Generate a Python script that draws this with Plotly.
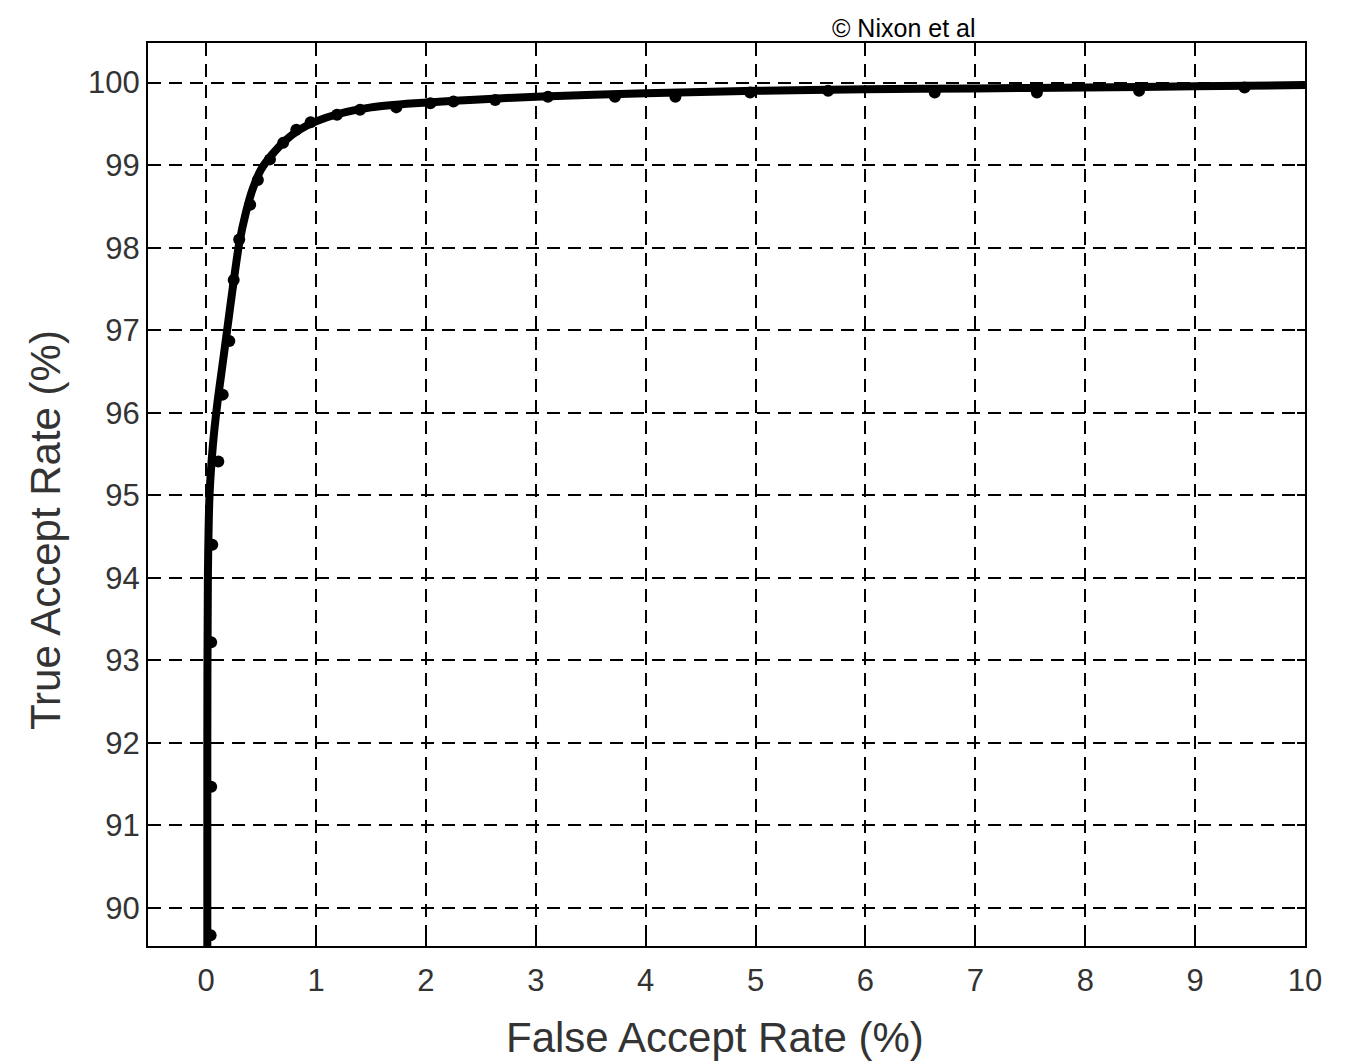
import plotly.graph_objects as go

# Measured points (markers)
far_pts = [0.04, 0.045, 0.045, 0.055, 0.11, 0.15, 0.21, 0.25, 0.30, 0.40, 0.47, 0.58, 0.70, 0.82, 0.95,
           1.19, 1.40, 1.73, 2.04, 2.25, 2.63, 3.11, 3.72, 4.27, 4.95, 5.66, 6.63, 7.56, 8.49, 9.45]
tar_pts = [89.67, 91.47, 93.22, 94.40, 95.41, 96.22, 96.87, 97.61, 98.10, 98.52, 98.82, 99.07, 99.27, 99.43, 99.52,
           99.61, 99.67, 99.70, 99.75, 99.77, 99.79, 99.83, 99.83, 99.83, 99.88, 99.90, 99.88, 99.88, 99.90, 99.94]

# Fitted curve
far_line = [0.01, 0.01, 0.015, 0.03, 0.06, 0.10, 0.15, 0.19, 0.24, 0.30, 0.36, 0.42, 0.50, 0.60, 0.72, 0.85,
            1.0, 1.2, 1.5, 1.9, 2.4, 3.0, 4.0, 5.0, 6.0, 7.0, 8.0, 9.0, 10.0]
tar_line = [89.5, 92.0, 94.0, 95.0, 95.6, 96.1, 96.6, 97.0, 97.5, 98.05, 98.42, 98.7, 98.95, 99.13, 99.3, 99.43,
            99.53, 99.62, 99.70, 99.75, 99.79, 99.83, 99.87, 99.90, 99.92, 99.93, 99.94, 99.955, 99.97]

x_ticks = [0, 1, 2, 3, 4, 5, 6, 7, 8, 9, 10]
y_ticks = [90, 91, 92, 93, 94, 95, 96, 97, 98, 99, 100]

fig = go.Figure()
fig.add_trace(go.Scatter(x=far_line, y=tar_line, mode="lines",
                         line=dict(color="black", width=8, shape="spline", smoothing=0.8),
                         showlegend=False, hoverinfo="skip"))
fig.add_trace(go.Scatter(x=far_pts, y=tar_pts, mode="markers",
                         marker=dict(color="black", size=12),
                         showlegend=False))

font_fam = "Liberation Sans Narrow, Liberation Sans, Arial"
axis_common = dict(
    showgrid=True, gridcolor="black", gridwidth=2, griddash="13px,8px",
    showline=True, linecolor="black", linewidth=2, mirror="ticks",
    ticks="inside", ticklen=8, tickwidth=1.5, tickcolor="black",
    zeroline=False,
    tickfont=dict(family=font_fam, size=31, color="#333333"),
)

# plot area in screen pixels (page has an 8px body offset)
L, R, T, B = 148, 1305, 43, 946
off = 8

fig.update_xaxes(range=[-0.53, 10], tickvals=x_ticks, ticktext=[str(v) for v in x_ticks],
                 ticklabelstandoff=6, **axis_common)
fig.update_yaxes(range=[89.54, 100.48], tickvals=y_ticks, ticktext=[str(v) for v in y_ticks],
                 **axis_common)

fig.add_annotation(text="False Accept Rate (%)", showarrow=False,
                   xref="paper", yref="paper",
                   x=(715 - L) / (R - L), y=(B - 1037) / (B - T), xanchor="center", yanchor="middle",
                   font=dict(family=font_fam, size=42, color="#333333"))
fig.add_annotation(text="True Accept Rate (%)", textangle=-90, showarrow=False,
                   xref="paper", yref="paper",
                   x=(45 - L) / (R - L), y=(B - 530) / (B - T), xanchor="center", yanchor="middle",
                   font=dict(family=font_fam, size=42, color="#333333"))
fig.add_annotation(text="© Nixon et al", showarrow=False, xref="paper", yref="paper",
                   x=(904 - L) / (R - L), y=(B - 28) / (B - T), xanchor="center", yanchor="middle",
                   font=dict(family=font_fam, size=25, color="black"))

fig.update_layout(width=1356, height=1062, paper_bgcolor="white", plot_bgcolor="white",
                  margin=dict(l=L - off, r=1356 - R + off, t=T - off, b=1062 - B + off))

fig.write_html("out.html")
